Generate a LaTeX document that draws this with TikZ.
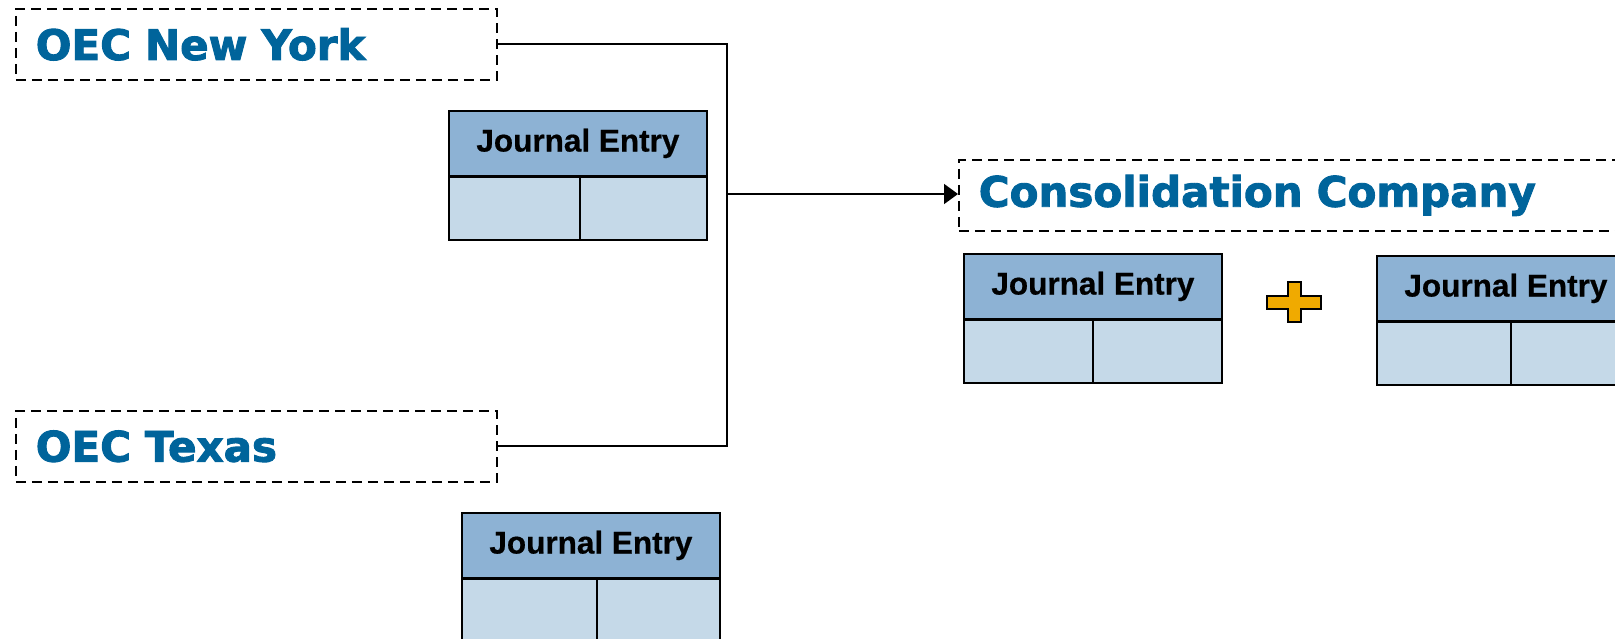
\documentclass[tikz,border=0pt]{standalone}
\usepackage{fontspec}
\setmainfont{Liberation Sans}
\newfontfamily\titlefont{DejaVu Sans}[FakeBold=2.2]
\newfontfamily\entryfont{Liberation Sans}[FakeBold=0.6]
\usetikzlibrary{arrows.meta}
\definecolor{titleblue}{HTML}{00649B}
\definecolor{headfill}{HTML}{8DB2D4}
\definecolor{bodyfill}{HTML}{C5D9E8}
\definecolor{plusfill}{HTML}{F0AA00}
\tikzset{
  entity/.style={draw, dashed, dash pattern=on 10pt off 6pt, line width=1.6pt,
    anchor=north west, minimum height=71pt, inner xsep=20pt, inner ysep=0pt,
    align=left, text=titleblue, font=\titlefont\bfseries\fontsize{42}{46}\selectfont},
  jehead/.style={draw, line width=1.8pt, fill=headfill, anchor=north west,
    minimum width=258pt, minimum height=65pt, inner sep=0pt,
    font=\entryfont\bfseries\fontsize{31.5}{34}\selectfont},
  jebody/.style={draw, line width=1.8pt, fill=bodyfill, anchor=north,
    minimum width=258pt, minimum height=63pt, inner sep=0pt},
  link/.style={line width=1.8pt},
}
\begin{document}
\begin{tikzpicture}[x=1pt,y=-1pt]
\useasboundingbox (0,0) rectangle (1615,638);

% entity labels
\node[entity, minimum width=481pt, text width=441pt] (ny) at (15,8) {OEC New York};
\node[entity, minimum width=481pt, text width=441pt] (tx) at (15,410) {OEC Texas};
\node[entity, minimum width=720pt, text width=680pt] (cc) at (958,159) {Consolidation Company};

% journal entries
\node[jehead] (je1h) at (448,110) {\raisebox{1.5pt}{Journal Entry}\hspace{12pt}};
\node[jebody, yshift=0.9pt] (je1b) at (je1h.south) {};
\draw[line width=1.6pt] ([xshift=2pt]je1b.north) -- ([xshift=2pt]je1b.south);

\node[jehead] (je2h) at (963,253) {\raisebox{1.5pt}{Journal Entry}\hspace{12pt}};
\node[jebody, yshift=0.9pt] (je2b) at (je2h.south) {};
\draw[line width=1.6pt] (je2b.north) -- (je2b.south);

\node[jehead] (je3h) at (1376,255) {\raisebox{1.5pt}{Journal Entry}\hspace{12pt}};
\node[jebody, yshift=0.9pt] (je3b) at (je3h.south) {};
\draw[line width=1.6pt] ([xshift=5pt]je3b.north) -- ([xshift=5pt]je3b.south);

\node[jehead] (je4h) at (461,512) {\raisebox{1.5pt}{Journal Entry}\hspace{12pt}};
\node[jebody, yshift=0.9pt] (je4b) at (je4h.south) {};
\draw[line width=1.6pt] ([xshift=6pt]je4b.north) -- ([xshift=6pt]je4b.south);

% connectors
\coordinate (jn) at (727,194);
\draw[link] (ny.east) -| (jn);
\draw[link] (tx.east) -| (jn);
\draw[link, -{Triangle[length=14pt,width=20pt]}] (jn) -- (cc.west |- jn);

% plus sign
\draw[line width=1.6pt, fill=plusfill]
  (1288,282) -- (1301,282) -- (1301,296) -- (1321,296) -- (1321,309)
  -- (1301,309) -- (1301,322) -- (1288,322) -- (1288,309) -- (1267,309)
  -- (1267,296) -- (1288,296) -- cycle;
\end{tikzpicture}
\end{document}
